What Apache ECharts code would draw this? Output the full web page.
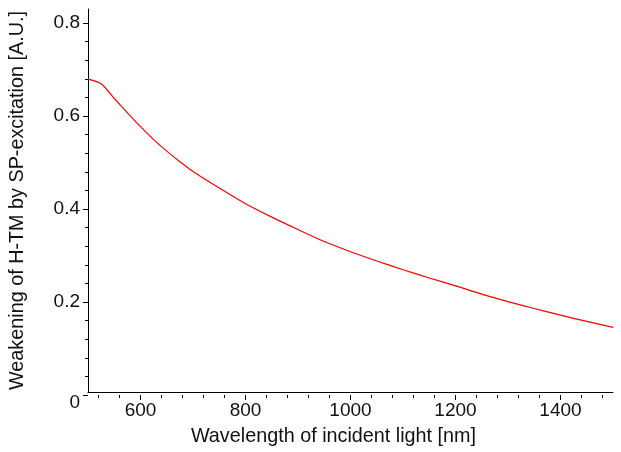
<!DOCTYPE html>
<html>
<head>
<meta charset="utf-8">
<script src="https://cdn.jsdelivr.net/npm/echarts@6/dist/echarts.min.js"></script>
<style>html,body{margin:0;padding:0;background:#fff}#c{width:621px;height:452px}</style>
</head>
<body>
<div id="c"></div>
<script>
// Data
const wavelength = [500, 525, 550, 575, 600, 625, 650, 675, 700, 750, 800, 850, 900, 950, 1000, 1050, 1100, 1150, 1200, 1250, 1300, 1350, 1400, 1450, 1500];
const weakening = [0.678, 0.668, 0.636, 0.605, 0.575, 0.547, 0.522, 0.499, 0.478, 0.442, 0.408, 0.379, 0.352, 0.326, 0.304, 0.284, 0.265, 0.247, 0.230, 0.212, 0.196, 0.181, 0.1665, 0.153, 0.140];
const xTickLabels = [600, 800, 1000, 1200, 1400];
const yTickLabels = [0, 0.2, 0.4, 0.6, 0.8];

const FONT = 'Liberation Sans, Arial, sans-serif';
const TXT = '#111';
const L = 88, R = 8, T = 9, B = 57;
const xMin = 500, xMax = 1500, yMax = 0.83;
const pxPerX = (621 - L - R) / (xMax - xMin);

const chart = echarts.init(document.getElementById('c'), null, {renderer: 'canvas'});
const hiddenAxis = {show: false};
chart.setOption({
  animation: false,
  backgroundColor: '#fff',
  grid: [
    {left: L, right: R, top: T, bottom: B},
    {left: L + (xTickLabels[0] - xMin) * pxPerX, right: R + (xMax - xTickLabels[xTickLabels.length - 1]) * pxPerX, top: T, bottom: B},
    {left: L + 20 * pxPerX, right: R + 20 * pxPerX, top: T, bottom: B},
    {left: L, right: R, top: 395 - (395 - T) * (yTickLabels[yTickLabels.length - 1] / yMax), bottom: B}
  ],
  xAxis: [
    {gridIndex: 0, type: 'value', min: xMin, max: xMax,
     axisLine: {show: true, lineStyle: {color: '#000', width: 1}},
     axisTick: {show: false}, axisLabel: {show: false}, splitLine: {show: false},
     name: 'Wavelength of incident light [nm]', nameLocation: 'middle', nameGap: 35,
     nameTextStyle: {fontFamily: FONT, fontSize: 19.8, color: TXT, padding: [0, 34, 0, 0]}},
    {gridIndex: 1, type: 'value', min: xTickLabels[0], max: xTickLabels[xTickLabels.length - 1], interval: 200,
     axisLine: {show: false}, splitLine: {show: false},
     axisTick: {show: true, inside: false, length: 5, lineStyle: {color: '#000', width: 1}},
     axisLabel: {show: true, margin: 6, fontFamily: FONT, fontSize: 19, color: TXT, formatter: v => String(v)}},
    {gridIndex: 2, type: 'value', min: 520, max: 1480, interval: 40,
     axisLine: {show: false}, splitLine: {show: false}, axisLabel: {show: false},
     axisTick: {show: true, inside: false, length: 3, lineStyle: {color: '#000', width: 1}}},
    Object.assign({gridIndex: 3, type: 'value', min: 0, max: 1}, hiddenAxis)
  ],
  yAxis: [
    {gridIndex: 0, type: 'value', min: 0, max: yMax,
     axisLine: {show: true, lineStyle: {color: '#000', width: 1}},
     axisTick: {show: false}, axisLabel: {show: false}, splitLine: {show: false},
     name: 'Weakening of H-TM by SP-excitation [A.U.]', nameLocation: 'middle', nameGap: 60, nameRotate: 90,
     nameTextStyle: {fontFamily: FONT, fontSize: 19.8, color: TXT}},
    Object.assign({gridIndex: 1, type: 'value', min: 0, max: 1}, hiddenAxis),
    Object.assign({gridIndex: 2, type: 'value', min: 0, max: 1}, hiddenAxis),
    {gridIndex: 3, type: 'value', min: 0, max: yTickLabels[yTickLabels.length - 1], interval: 0.2,
     axisLine: {show: false}, splitLine: {show: false},
     axisTick: {show: true, inside: false, length: 5, lineStyle: {color: '#000', width: 1}},
     minorTick: {show: true, splitNumber: 5, length: 3, lineStyle: {color: '#000', width: 1}},
     axisLabel: {show: true, margin: 8, fontFamily: FONT, fontSize: 19, color: TXT,
       formatter: v => v === 0 ? '{z|0}' : v.toFixed(1),
       rich: {z: {fontFamily: FONT, fontSize: 19, color: TXT, padding: [15, 0, 0, 0]}}}}
  ],
  series: [{
    type: 'line', xAxisIndex: 0, yAxisIndex: 0,
    data: wavelength.map((w, i) => [w, weakening[i]]),
    smooth: 0.25, showSymbol: false, symbol: 'none',
    lineStyle: {color: '#ff0000', width: 1.2}
  }]
});
</script>
</body>
</html>
